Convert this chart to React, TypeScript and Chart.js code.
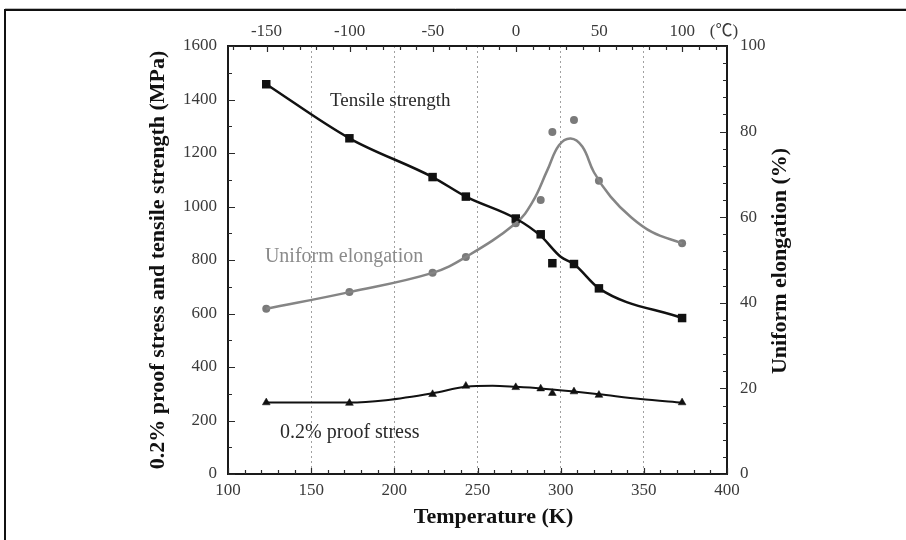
import React, { useEffect, useRef } from "react";
import { Chart, registerables } from "chart.js";

Chart.register(...registerables);

// Measured points (temperature in K)
const tempK = [123, 173, 223, 243, 273, 288, 295, 308, 323, 373];
const tensileStrength = [1457, 1255, 1110, 1037, 955, 896, 788, 785, 694, 583];
const proofStress = [267, 265, 298, 329, 324, 319, 302, 308, 295, 267];
const uniformElongation = [38.6, 42.5, 47.0, 50.7, 58.6, 64.0, 79.9, 82.7, 68.5, 53.9];

// Fitted curves
const tensileCurveK = [123, 173, 223, 243, 273, 288, 300, 308, 323, 373];
const tensileCurve = [1457, 1255, 1110, 1037, 955, 890, 812, 785, 694, 583];
const proofCurveK = [123, 173, 195, 223, 243, 259, 273, 288, 308, 323, 348, 373];
const proofCurve = [267, 267, 276, 302, 326, 330, 326, 320, 308, 298, 280, 267];
const elongCurveK = [123, 173, 223, 243, 273, 283, 292, 299, 306, 313, 320, 330, 342, 355, 373];
const elongCurve = [38.6, 42.5, 47.0, 50.7, 58.6, 63.5, 71.0, 76.8, 78.4, 76.5, 70.5, 64.8, 60.1, 56.5, 53.9];

// Tick labels
const kelvinTicks = [100, 150, 200, 250, 300, 350, 400];
const celsiusTicks = [-150, -100, -50, 0, 50, 100];
const mpaTicks = [0, 200, 400, 600, 800, 1000, 1200, 1400, 1600];
const elongTicks = [0, 20, 40, 60, 80, 100];

const SERIF = "'Liberation Serif', 'Times New Roman', serif";
const TICK_COLOR = "#3a3a3a";

const pts = (xs: number[], ys: number[]) => xs.map((x, i) => ({ x, y: ys[i] }));

const decorPlugin = {
  id: "decor",
  beforeDraw(chart: any) {
    const { ctx, width, height } = chart;
    ctx.save();
    ctx.fillStyle = "#ffffff";
    ctx.fillRect(0, 0, width, height);
    ctx.strokeStyle = "#bbbbbb";
    ctx.lineWidth = 1;
    ctx.beginPath();
    ctx.moveTo(5, 8.5);
    ctx.lineTo(width, 8.5);
    ctx.stroke();
    ctx.strokeStyle = "#111111";
    ctx.lineWidth = 2;
    ctx.beginPath();
    ctx.moveTo(width, 10);
    ctx.lineTo(5, 10);
    ctx.lineTo(5, height);
    ctx.stroke();
    ctx.restore();
  },
  afterDraw(chart: any) {
    const { ctx, chartArea: a, scales } = chart;
    const x = scales.x, y = scales.y, y2 = scales.y2;
    ctx.save();
    ctx.strokeStyle = "#1a1a1a";
    ctx.lineWidth = 2;
    ctx.strokeRect(a.left, a.top, a.right - a.left, a.bottom - a.top);
    ctx.lineWidth = 1.2;
    ctx.strokeStyle = "#2a2a2a";
    ctx.beginPath();
    for (let v = 0; v <= 1600; v += 100) {
      const py = Math.round(y.getPixelForValue(v)) + 0.5;
      const len = v % 200 === 0 ? 7 : 4;
      ctx.moveTo(a.left, py);
      ctx.lineTo(a.left + len, py);
    }
    for (let v = 0; v <= 100; v += 4) {
      const py = Math.round(y2.getPixelForValue(v)) + 0.5;
      const len = v % 20 === 0 ? 7 : 4;
      ctx.moveTo(a.right, py);
      ctx.lineTo(a.right - len, py);
    }
    for (let v = 100; v <= 400; v += 10) {
      const px = Math.round(x.getPixelForValue(v)) + 0.5;
      const len = v % 50 === 0 ? 6 : 4;
      ctx.moveTo(px, a.bottom);
      ctx.lineTo(px, a.bottom - len);
    }
    for (let c = -170; c <= 120; c += 10) {
      const px = Math.round(x.getPixelForValue(c + 273.15)) + 0.5;
      const len = c % 50 === 0 ? 6 : 4;
      ctx.moveTo(px, a.top);
      ctx.lineTo(px, a.top + len);
    }
    ctx.stroke();

    // axis titles
    ctx.fillStyle = "#111111";
    ctx.textAlign = "center";
    ctx.textBaseline = "middle";
    ctx.font = `bold 22px ${SERIF}`;
    ctx.save();
    ctx.translate(a.left - 70, (a.top + a.bottom) / 2);
    ctx.rotate(-Math.PI / 2);
    ctx.fillText("0.2% proof stress and tensile strength (MPa)", 0, 0);
    ctx.restore();
    ctx.save();
    ctx.translate(a.right + 53, (a.top + a.bottom) / 2 + 1);
    ctx.rotate(-Math.PI / 2);
    ctx.fillText("Uniform elongation (%)", 0, 0);
    ctx.restore();
    ctx.font = `bold 22px ${SERIF}`;
    ctx.fillText("Temperature (K)", (a.left + a.right) / 2 + 16, a.bottom + 43);

    // (°C) unit on top axis
    ctx.fillStyle = TICK_COLOR;
    ctx.font = `17px ${SERIF}, 'Noto Sans CJK JP'`;
    ctx.fillText("(\u2103)", a.right - 3, a.top - 14);

    // series annotations placed in data coordinates
    ctx.textAlign = "left";
    ctx.font = `19px ${SERIF}`;
    ctx.fillStyle = "#2a2a2a";
    ctx.fillText("Tensile strength", x.getPixelForValue(161.3), y.getPixelForValue(1395));
    ctx.font = `20px ${SERIF}`;
    ctx.fillStyle = "#8a8a8a";
    ctx.fillText("Uniform elongation", x.getPixelForValue(122.2), y.getPixelForValue(813));
    ctx.fillStyle = "#2a2a2a";
    ctx.fillText("0.2% proof stress", x.getPixelForValue(131.3), y.getPixelForValue(153));
    ctx.restore();
  },
};

export default function App() {
  const canvasRef = useRef<HTMLCanvasElement | null>(null);

  useEffect(() => {
    const canvas = canvasRef.current;
    if (!canvas) return;
    const tickFont = { family: SERIF, size: 17 };
    const plain = (v: any) => String(v);
    const chart = new Chart(canvas, {
      type: "line",
      data: {
        datasets: [
          {
            label: "Tensile strength curve",
            data: pts(tensileCurveK, tensileCurve),
            yAxisID: "y",
            borderColor: "#111111",
            borderWidth: 2.5,
            pointRadius: 0,
            cubicInterpolationMode: "monotone",
            fill: false,
          },
          {
            label: "Proof stress curve",
            data: pts(proofCurveK, proofCurve),
            yAxisID: "y",
            borderColor: "#111111",
            borderWidth: 2,
            pointRadius: 0,
            cubicInterpolationMode: "monotone",
            fill: false,
          },
          {
            label: "Uniform elongation curve",
            data: pts(elongCurveK, elongCurve),
            yAxisID: "y2",
            borderColor: "#858585",
            borderWidth: 2.5,
            pointRadius: 0,
            tension: 0.4,
            fill: false,
          },
          {
            label: "Tensile strength",
            data: pts(tempK, tensileStrength),
            yAxisID: "y",
            showLine: false,
            pointStyle: "rect",
            pointRadius: 6,
            pointBackgroundColor: "#111111",
            pointBorderColor: "#111111",
            pointBorderWidth: 0,
          },
          {
            label: "0.2% proof stress",
            data: pts(tempK, proofStress),
            yAxisID: "y",
            showLine: false,
            pointStyle: "triangle",
            pointRadius: 4.5,
            pointBackgroundColor: "#111111",
            pointBorderColor: "#111111",
            pointBorderWidth: 0.5,
          },
          {
            label: "Uniform elongation",
            data: pts(tempK, uniformElongation),
            yAxisID: "y2",
            showLine: false,
            pointStyle: "circle",
            pointRadius: 4,
            pointBackgroundColor: "#7a7a7a",
            pointBorderColor: "#7a7a7a",
            pointBorderWidth: 0,
          },
        ],
      },
      options: {
        animation: false,
        responsive: false,
        maintainAspectRatio: false,
        layout: { padding: { left: 147, right: 0, top: 0, bottom: 0 } },
        plugins: { legend: { display: false }, tooltip: { enabled: false } },
        scales: {
          x: {
            type: "linear",
            position: "bottom",
            min: 100,
            max: 400,
            afterBuildTicks: (s: any) => {
              s.ticks = kelvinTicks.map((v) => ({ value: v }));
            },
            afterFit: (s: any) => {
              s.height = 66;
            },
            ticks: { font: tickFont, color: TICK_COLOR, padding: 6, maxRotation: 0, autoSkip: false, callback: plain },
            grid: { display: true, color: "#a0a0a0", lineWidth: 1, drawTicks: false },
            border: { display: false, dash: [2, 3] },
          },
          x2: {
            type: "linear",
            position: "top",
            min: 100,
            max: 400,
            afterBuildTicks: (s: any) => {
              s.ticks = celsiusTicks.map((c) => ({ value: c + 273.15 }));
            },
            afterFit: (s: any) => {
              s.height = 46;
            },
            ticks: {
              font: tickFont,
              color: TICK_COLOR,
              padding: 4,
              maxRotation: 0,
              autoSkip: false,
              callback: (v: any) => String(Math.round(Number(v) - 273.15)),
            },
            grid: { display: false, drawTicks: false },
            border: { display: false },
          },
          y: {
            type: "linear",
            position: "left",
            min: 0,
            max: 1600,
            afterBuildTicks: (s: any) => {
              s.ticks = mpaTicks.map((v) => ({ value: v }));
            },
            afterFit: (s: any) => {
              s.width = 81;
            },
            ticks: { font: tickFont, color: TICK_COLOR, padding: 11, autoSkip: false, callback: plain },
            grid: { display: false, drawTicks: false },
            border: { display: false },
          },
          y2: {
            type: "linear",
            position: "right",
            min: 0,
            max: 100,
            afterBuildTicks: (s: any) => {
              s.ticks = elongTicks.map((v) => ({ value: v }));
            },
            afterFit: (s: any) => {
              s.width = 179;
            },
            ticks: { font: tickFont, color: TICK_COLOR, padding: 13, autoSkip: false, callback: plain },
            grid: { display: false, drawTicks: false },
            border: { display: false },
          },
        },
      },
      plugins: [decorPlugin],
    } as any);
    return () => chart.destroy();
  }, []);

  return (
    <div style={{ position: "fixed", left: 0, top: 0, width: 906, height: 540, background: "#fff" }}>
      <canvas ref={canvasRef} width={906} height={540} style={{ width: 906, height: 540, display: "block" }} />
    </div>
  );
}
